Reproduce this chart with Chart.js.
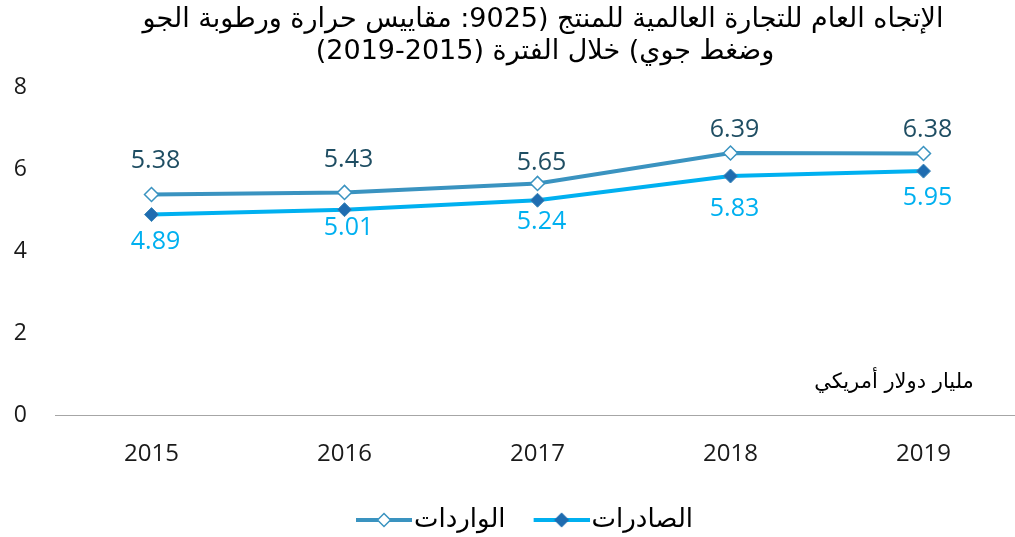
<!DOCTYPE html>
<html>
<head>
<meta charset="utf-8">
<script src="https://cdn.jsdelivr.net/npm/chart.js@4"></script>
<style>
  html, body { margin: 0; padding: 0; background: #fff; overflow: hidden; }
  #wrap { width: 1015px; height: 537px; position: relative; overflow: hidden; }
  #c { display: block; }
</style>
</head>
<body>
<div id="wrap"><canvas id="c" width="1020" height="546"></canvas></div>
<script>
const years = ['2015', '2016', '2017', '2018', '2019'];
const imports = [5.38, 5.43, 5.65, 6.39, 6.38]; // الواردات
const exports = [4.89, 5.01, 5.24, 5.83, 5.95]; // الصادرات
const yTicks = [0, 2, 4, 6, 8];

const titleLines = [
  'الإتجاه العام للتجارة العالمية للمنتج (9025: مقاييس حرارة ورطوبة الجو',
  'وضغط جوي) خلال الفترة (2015-2019)'
];
const unitLabel = 'مليار دولار أمريكي';

// label nudges (pixels from the point), as placed in the original
const importLabelShift = [-34, -33, -21, -23, -24];
const exportLabelShift = [27, 18, 22, 33, 27];

const importLine = '#3A93C0';
const importText = '#1F4E63';
const exportLine = '#00B0F0';
const exportMarker = '#1F6CB0';
const arabicFont = "'DejaVu Sans', sans-serif";
const numFont = "'Open Sans', 'Noto Sans', sans-serif";

// legend symbol: short line with a diamond; transparent margin on the left
// and the image runs a bit past the box so the text sits close to it
function legendIcon(lineColor, fill, stroke) {
  const cv = document.createElement('canvas');
  cv.width = 82; cv.height = 16;
  const g = cv.getContext('2d');
  g.strokeStyle = lineColor; g.lineWidth = 4;
  g.beginPath(); g.moveTo(26, 8); g.lineTo(82, 8); g.stroke();
  g.beginPath();
  g.moveTo(54, 1.5); g.lineTo(60.5, 8); g.lineTo(54, 14.5); g.lineTo(47.5, 8); g.closePath();
  g.fillStyle = fill; g.fill();
  g.strokeStyle = stroke; g.lineWidth = 1.5; g.stroke();
  return cv;
}

const textPlugin = {
  id: 'extraText',
  afterDatasetsDraw(chart) {
    const ctx = chart.ctx;
    ctx.save();
    ctx.textAlign = 'center';
    ctx.textBaseline = 'middle';
    ctx.font = '25px ' + numFont;
    chart.getDatasetMeta(0).data.forEach((pt, i) => {
      ctx.fillStyle = importText;
      ctx.fillText(imports[i].toFixed(2), pt.x + 4, pt.y + importLabelShift[i]);
    });
    chart.getDatasetMeta(1).data.forEach((pt, i) => {
      ctx.fillStyle = exportLine;
      ctx.fillText(exports[i].toFixed(2), pt.x + 4, pt.y + exportLabelShift[i]);
    });
    // title, centred
    ctx.fillStyle = '#000';
    ctx.direction = 'rtl';
    ctx.font = '27px ' + arabicFont;
    ctx.fillText(titleLines[0], 543, 20);
    ctx.fillText(titleLines[1], 545, 52);
    // unit
    ctx.font = '21px ' + arabicFont;
    ctx.fillText(unitLabel, 894, 383);
    ctx.restore();
  }
};

new Chart(document.getElementById('c'), {
  type: 'line',
  data: {
    labels: years,
    datasets: [
      {
        label: 'الواردات',
        data: imports,
        borderColor: importLine,
        borderWidth: 4,
        pointStyle: 'rectRot',
        pointRadius: 7,
        pointBackgroundColor: '#fff',
        pointBorderColor: importLine,
        pointBorderWidth: 1.5,
        legendIcon: legendIcon(importLine, '#fff', importLine)
      },
      {
        label: 'الصادرات',
        data: exports,
        borderColor: exportLine,
        borderWidth: 4,
        pointStyle: 'rectRot',
        pointRadius: 7,
        pointBackgroundColor: exportMarker,
        pointBorderColor: '#3A86B8',
        pointBorderWidth: 1,
        legendIcon: legendIcon(exportLine, exportMarker, exportMarker)
      }
    ]
  },
  options: {
    responsive: false,
    animation: false,
    layout: { autoPadding: false, padding: { top: 87, left: 14, right: 0, bottom: 3 } },
    plugins: {
      title: { display: false },
      tooltip: { enabled: false },
      legend: {
        position: 'bottom',
        labels: {
          usePointStyle: true,
          pointStyleWidth: 60,
          padding: 13,
          font: { size: 26, family: arabicFont, lineHeight: 1 },
          color: '#222',
          generateLabels(chart) {
            return chart.data.datasets.map((ds, i) => ({
              text: ds.label,
              pointStyle: ds.legendIcon,
              fillStyle: ds.borderColor,
              strokeStyle: ds.borderColor,
              lineWidth: 0,
              hidden: false,
              datasetIndex: i
            }));
          }
        }
      }
    },
    scales: {
      x: {
        offset: true,
        grid: { display: false, drawTicks: false },
        border: { display: true, color: '#A6A6A6', width: 1 },
        ticks: { font: { size: 24, family: numFont }, color: '#1a1a1a', padding: 25 },
        afterFit(scale) { scale.paddingLeft = 0; scale.paddingRight = 0; }
      },
      y: {
        min: 0,
        max: 8,
        afterBuildTicks(axis) { axis.ticks = yTicks.map(v => ({ value: v })); },
        afterFit(scale) { scale.width = 41; },
        grid: { display: false, drawTicks: false },
        border: { display: false },
        ticks: { font: { size: 23, family: numFont }, color: '#1a1a1a', padding: 28 }
      }
    }
  },
  plugins: [textPlugin]
});
</script>
</body>
</html>
